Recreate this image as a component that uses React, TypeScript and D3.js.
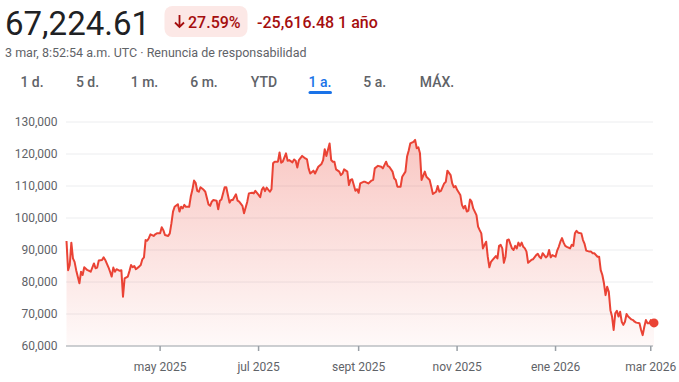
import React from "react";
import * as d3 from "d3";

const priceData: [string, number][] = [
  ["2025-03-04", 92800], ["2025-03-05", 83700], ["2025-03-06", 85300], ["2025-03-07", 92300],
  ["2025-03-08", 87400], ["2025-03-09", 86300], ["2025-03-10", 83700], ["2025-03-12", 79600],
  ["2025-03-13", 83200], ["2025-03-14", 82200], ["2025-03-15", 84600], ["2025-03-17", 83700],
  ["2025-03-18", 83500], ["2025-03-19", 83200], ["2025-03-21", 85800], ["2025-03-22", 84300],
  ["2025-03-23", 84500], ["2025-03-24", 86700], ["2025-03-26", 86900], ["2025-03-27", 87700],
  ["2025-03-28", 86900], ["2025-03-30", 84600], ["2025-03-31", 83200], ["2025-04-01", 81700],
  ["2025-04-02", 84500], ["2025-04-03", 83200], ["2025-04-04", 84000], ["2025-04-06", 83500],
  ["2025-04-07", 83700], ["2025-04-08", 75400], ["2025-04-09", 81100], ["2025-04-11", 81700],
  ["2025-04-12", 83400], ["2025-04-13", 85300], ["2025-04-14", 84600], ["2025-04-15", 85000],
  ["2025-04-16", 84000], ["2025-04-18", 84800], ["2025-04-19", 85300], ["2025-04-20", 87100],
  ["2025-04-21", 87700], ["2025-04-22", 93100], ["2025-04-23", 92900], ["2025-04-24", 93700],
  ["2025-04-25", 94900], ["2025-04-27", 94400], ["2025-04-28", 94900], ["2025-04-29", 95200],
  ["2025-05-01", 95200], ["2025-05-02", 97100], ["2025-05-03", 96200], ["2025-05-04", 94700],
  ["2025-05-06", 94400], ["2025-05-07", 95200], ["2025-05-08", 98300], ["2025-05-09", 102000],
  ["2025-05-10", 103500], ["2025-05-12", 104300], ["2025-05-13", 102000], ["2025-05-14", 103500],
  ["2025-05-15", 103000], ["2025-05-16", 104100], ["2025-05-17", 103500], ["2025-05-19", 103500],
  ["2025-05-20", 106700], ["2025-05-21", 108800], ["2025-05-22", 111700], ["2025-05-23", 111000],
  ["2025-05-24", 108500], ["2025-05-25", 108200], ["2025-05-26", 109600], ["2025-05-28", 108800],
  ["2025-05-29", 108200], ["2025-05-31", 104200], ["2025-06-01", 103800], ["2025-06-02", 105100],
  ["2025-06-03", 105600], ["2025-06-05", 105400], ["2025-06-06", 102700], ["2025-06-07", 105400],
  ["2025-06-08", 105800], ["2025-06-10", 109600], ["2025-06-11", 109600], ["2025-06-12", 107200],
  ["2025-06-13", 104800], ["2025-06-14", 105600], ["2025-06-15", 105600], ["2025-06-17", 107400],
  ["2025-06-18", 105400], ["2025-06-19", 105100], ["2025-06-21", 103800], ["2025-06-22", 101500],
  ["2025-06-24", 105100], ["2025-06-25", 107700], ["2025-06-27", 107900], ["2025-06-28", 107700],
  ["2025-06-29", 108500], ["2025-07-01", 107200], ["2025-07-02", 106500], ["2025-07-03", 108800],
  ["2025-07-04", 109600], ["2025-07-05", 108400], ["2025-07-06", 109500], ["2025-07-08", 108200],
  ["2025-07-09", 109000], ["2025-07-10", 117100], ["2025-07-11", 117600], ["2025-07-13", 117600],
  ["2025-07-14", 120500], ["2025-07-15", 117300], ["2025-07-16", 117600], ["2025-07-18", 120200],
  ["2025-07-19", 117900], ["2025-07-20", 118100], ["2025-07-22", 117400], ["2025-07-23", 118300],
  ["2025-07-24", 117900], ["2025-07-25", 115800], ["2025-07-26", 118100], ["2025-07-28", 119400],
  ["2025-07-30", 118600], ["2025-07-31", 118300], ["2025-08-01", 115500], ["2025-08-02", 113900],
  ["2025-08-04", 114800], ["2025-08-05", 113900], ["2025-08-07", 116000], ["2025-08-09", 116900],
  ["2025-08-10", 118100], ["2025-08-11", 121500], ["2025-08-12", 119400], ["2025-08-14", 123300],
  ["2025-08-15", 118100], ["2025-08-16", 117600], ["2025-08-17", 117600], ["2025-08-18", 115200],
  ["2025-08-20", 114500], ["2025-08-21", 113400], ["2025-08-22", 113900], ["2025-08-23", 115200],
  ["2025-08-25", 114500], ["2025-08-26", 110300], ["2025-08-27", 111900], ["2025-08-28", 112100],
  ["2025-08-30", 108500], ["2025-08-31", 109000], ["2025-09-01", 107900], ["2025-09-02", 110800],
  ["2025-09-04", 111300], ["2025-09-05", 111300], ["2025-09-07", 110800], ["2025-09-09", 111700],
  ["2025-09-10", 111900], ["2025-09-11", 115500], ["2025-09-13", 116300], ["2025-09-15", 116000],
  ["2025-09-16", 115500], ["2025-09-18", 117600], ["2025-09-19", 116300], ["2025-09-20", 116000],
  ["2025-09-22", 114500], ["2025-09-23", 112400], ["2025-09-24", 111900], ["2025-09-25", 109800],
  ["2025-09-27", 109800], ["2025-09-28", 112900], ["2025-09-30", 114500], ["2025-10-01", 119200],
  ["2025-10-02", 121000], ["2025-10-03", 123300], ["2025-10-05", 123800], ["2025-10-06", 124400],
  ["2025-10-07", 121800], ["2025-10-08", 122100], ["2025-10-09", 120200], ["2025-10-10", 111900],
  ["2025-10-12", 114500], ["2025-10-13", 112900], ["2025-10-15", 111900], ["2025-10-16", 109800],
  ["2025-10-17", 107500], ["2025-10-19", 108200], ["2025-10-20", 110000], ["2025-10-21", 108200],
  ["2025-10-22", 108500], ["2025-10-24", 110800], ["2025-10-25", 111300], ["2025-10-26", 114800],
  ["2025-10-28", 113400], ["2025-10-29", 110800], ["2025-10-30", 109600], ["2025-10-31", 110000],
  ["2025-11-01", 108800], ["2025-11-03", 107200], ["2025-11-04", 104100], ["2025-11-05", 103000],
  ["2025-11-06", 103800], ["2025-11-07", 102000], ["2025-11-08", 102300], ["2025-11-09", 105800],
  ["2025-11-10", 105100], ["2025-11-11", 103000], ["2025-11-13", 100900], ["2025-11-14", 97300],
  ["2025-11-15", 96200], ["2025-11-16", 95200], ["2025-11-17", 90500], ["2025-11-18", 91600],
  ["2025-11-19", 92600], ["2025-11-20", 87900], ["2025-11-21", 84600], ["2025-11-22", 86300],
  ["2025-11-23", 86900], ["2025-11-25", 88100], ["2025-11-26", 87400], ["2025-11-27", 91300],
  ["2025-11-28", 91600], ["2025-11-29", 90500], ["2025-11-30", 86000], ["2025-12-01", 87900],
  ["2025-12-02", 93100], ["2025-12-03", 93300], ["2025-12-05", 90500], ["2025-12-06", 90000],
  ["2025-12-07", 91300], ["2025-12-08", 90500], ["2025-12-09", 92300], ["2025-12-10", 91300],
  ["2025-12-11", 92300], ["2025-12-12", 91000], ["2025-12-13", 90500], ["2025-12-14", 89500],
  ["2025-12-15", 86000], ["2025-12-17", 86900], ["2025-12-18", 87100], ["2025-12-20", 88400],
  ["2025-12-21", 88800], ["2025-12-22", 87900], ["2025-12-23", 87400], ["2025-12-24", 89000],
  ["2025-12-26", 87700], ["2025-12-27", 88100], ["2025-12-28", 90000], ["2025-12-29", 87700],
  ["2025-12-30", 88400], ["2026-01-01", 87900], ["2026-01-02", 89800], ["2026-01-03", 91000],
  ["2026-01-04", 92600], ["2026-01-05", 93700], ["2026-01-06", 92300], ["2026-01-07", 91300],
  ["2026-01-08", 91000], ["2026-01-10", 90500], ["2026-01-11", 91600], ["2026-01-12", 91300],
  ["2026-01-13", 95200], ["2026-01-14", 96000], ["2026-01-15", 95400], ["2026-01-17", 95200],
  ["2026-01-18", 93100], ["2026-01-19", 91900], ["2026-01-20", 89800], ["2026-01-22", 89500],
  ["2026-01-23", 89500], ["2026-01-24", 89000], ["2026-01-25", 89000], ["2026-01-27", 87900],
  ["2026-01-28", 87900], ["2026-01-29", 83700], ["2026-01-30", 82200], ["2026-01-31", 79600],
  ["2026-02-01", 75900], ["2026-02-02", 78500], ["2026-02-03", 76900], ["2026-02-04", 71200],
  ["2026-02-05", 69200], ["2026-02-06", 65000], ["2026-02-07", 70200], ["2026-02-08", 71000],
  ["2026-02-09", 69200], ["2026-02-10", 70700], ["2026-02-11", 67600], ["2026-02-12", 66600],
  ["2026-02-13", 67600], ["2026-02-14", 70000], ["2026-02-15", 69200], ["2026-02-17", 68300],
  ["2026-02-18", 68100], ["2026-02-19", 67600], ["2026-02-20", 67300], ["2026-02-22", 67100],
  ["2026-02-23", 65000], ["2026-02-24", 63400], ["2026-02-25", 66000], ["2026-02-26", 68100],
  ["2026-02-27", 67100], ["2026-02-28", 67100], ["2026-03-01", 68100], ["2026-03-02", 67100],
  ["2026-03-03", 67224.61],
];

const yTicks = [60000, 70000, 80000, 90000, 100000, 110000, 120000, 130000];
const xTickDates = ["2025-05-01", "2025-07-01", "2025-09-01", "2025-11-01", "2026-01-01", "2026-03-01"];
const xTickLabels = ["may 2025", "jul 2025", "sept 2025", "nov 2025", "ene 2026", "mar 2026"];
const tabs = ["1 d.", "5 d.", "1 m.", "6 m.", "YTD", "1 a.", "5 a.", "MÁX."];
const activeTab = "1 a.";
const headline = { price: "67,224.61", pct: "27.59%", change: "-25,616.48", period: "1 año" };
const subtitle = "3 mar, 8:52:54 a.m. UTC · Renuncia de responsabilidad";

const W = 679;
const H = 382;
const FONT = "Roboto, 'Noto Sans', Arial, sans-serif";
const RED = "#ea4335";
const DARKRED = "#a50e0e";
const GRAY = "#5f6368";

export default function App() {
  const parse = d3.timeParse("%Y-%m-%d");
  const data = priceData.map(([d, v]) => ({ date: parse(d) as Date, value: v }));
  const x = d3
    .scaleTime()
    .domain([parse("2025-03-04") as Date, parse("2026-03-03") as Date])
    .range([66.5, 654]);
  const y = d3.scaleLinear().domain([60000, 130000]).range([346, 122]);
  const line = d3
    .line<{ date: Date; value: number }>()
    .x((d) => x(d.date))
    .y((d) => y(d.value));
  const area = d3
    .area<{ date: Date; value: number }>()
    .x((d) => x(d.date))
    .y0(y(60000))
    .y1((d) => y(d.value));
  const fmt = d3.format(",");
  const last = data[data.length - 1];
  const tabX = [32, 87.5, 144.5, 204, 264, 320, 374.7, 437];

  return (
    <svg
      width={W}
      height={H}
      style={{ position: "fixed", left: 0, top: 0, background: "#fff" }}
      fontFamily={FONT}
    >
      <rect width={W} height={H} fill="#fff" />
      {/* header */}
      <text x={5} y={35} fontSize={33} fill="#202124">{headline.price}</text>
      <rect x={164.5} y={6} width={83} height={31} rx={8} fill="#fce8e6" />
      <path d="M179.5 15 V27 M175 22.5 L179.5 27 L184 22.5" stroke={DARKRED} strokeWidth={1.8} fill="none" />
      <text x={188} y={27.5} fontSize={16} fontWeight={500} fill={DARKRED}>{headline.pct}</text>
      <text x={257} y={27.5} fontSize={16} fontWeight={500} fill={DARKRED}>
        {headline.change} {headline.period}
      </text>
      <text x={5} y={57} fontSize={12.5} fill={GRAY}>{subtitle}</text>
      {/* tabs */}
      {tabs.map((t, i) => (
        <text
          key={t}
          x={tabX[i]}
          y={86.5}
          fontSize={14}
          fontWeight={500}
          textAnchor="middle"
          fill={t === activeTab ? "#1a73e8" : GRAY}
        >
          {t}
        </text>
      ))}
      <rect x={308.5} y={91} width={23.5} height={3} rx={1.5} fill="#1a73e8" />
      {/* chart */}
      <defs>
        <linearGradient id="fillGrad" gradientUnits="userSpaceOnUse" x1={0} y1={y(130000)} x2={0} y2={y(60000)}>
          <stop offset="0%" stopColor={RED} stopOpacity={0.32} />
          <stop offset="100%" stopColor={RED} stopOpacity={0.03} />
        </linearGradient>
      </defs>
      {yTicks.slice(1).map((t) => (
        <line key={t} x1={66} x2={653} y1={y(t)} y2={y(t)} stroke="#ecedef" strokeWidth={1} />
      ))}
      <path d={area(data) || ""} fill="url(#fillGrad)" />
      <path d={line(data) || ""} fill="none" stroke={RED} strokeWidth={2} strokeLinejoin="round" />
      <circle cx={x(last.date)} cy={y(last.value)} r={4.5} fill={RED} />
      <line x1={66} x2={653} y1={y(60000)} y2={y(60000)} stroke="#9aa0a6" strokeWidth={1} />
      {yTicks.map((t) => (
        <text key={t} x={57.5} y={y(t)} dy="0.35em" fontSize={12} textAnchor="end" fill={GRAY}>
          {fmt(t)}
        </text>
      ))}
      {xTickDates.map((d, i) => {
        const xx = x(parse(d) as Date);
        return (
          <g key={d}>
            <line x1={xx} x2={xx} y1={y(60000)} y2={y(60000) + 5} stroke="#9aa0a6" strokeWidth={1.5} />
            <text x={xx} y={371} fontSize={12} textAnchor="middle" fill={GRAY}>
              {xTickLabels[i]}
            </text>
          </g>
        );
      })}
    </svg>
  );
}
